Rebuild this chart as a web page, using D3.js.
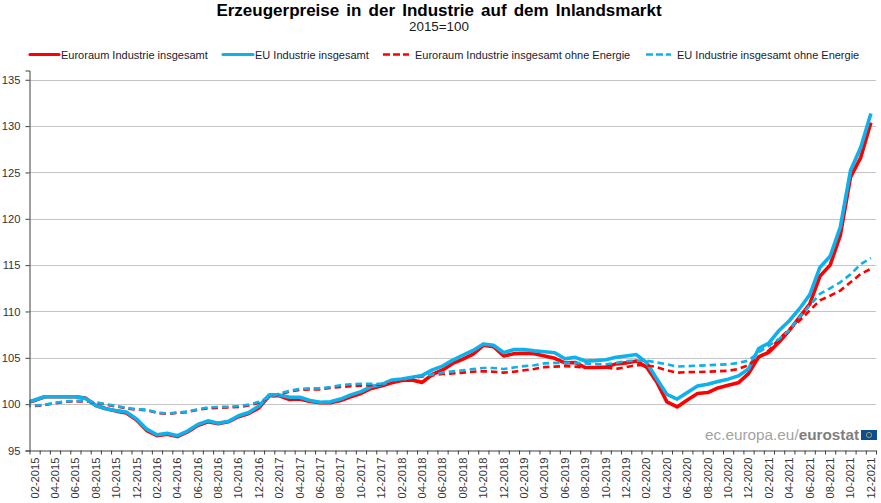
<!DOCTYPE html>
<html>
<head>
<meta charset="utf-8">
<script src="https://cdn.jsdelivr.net/npm/d3@7"></script>
<style>
  html, body { margin: 0; padding: 0; background: #fff; }
  text { font-family: "Liberation Sans", Arial, sans-serif; }
</style>
</head>
<body>
<div id="chart"></div>
<script>
// values, monthly 01-2015 to 12-2021
const years = [2015, 2016, 2017, 2018, 2019, 2020, 2021]
const monthNames = ["01", "02", "03", "04", "05", "06", "07", "08", "09", "10", "11", "12"]
const yTicks = [95, 100, 105, 110, 115, 120, 125, 130, 135]

const euroTotal = [
  100.05, 100.4, 100.8, 100.8, 100.8, 100.8, 100.65, 99.85, 99.5, 99.25, 99.05, 98.3,
  97.15, 96.6, 96.75, 96.5, 97, 97.7, 98.1, 97.9, 98.1, 98.65, 99, 99.6,
  100.9, 100.9, 100.5, 100.55, 100.3, 100.15, 100.15, 100.4, 100.8, 101.15, 101.7, 101.95,
  102.3, 102.55, 102.6, 102.35, 103.2, 103.7, 104.4, 104.85, 105.4, 106.35, 106.2, 105.2,
  105.45, 105.5, 105.45, 105.2, 104.95, 104.45, 104.5, 103.95, 103.95, 104, 104.35, 104.45,
  104.65, 104, 102.4, 100.25, 99.7, 100.45, 101.15, 101.25, 101.75, 102.05, 102.3, 103.3,
  105.1, 105.6, 106.7, 107.95, 109.4, 110.8, 113.8, 115, 118.2, 124.5, 126.6, 130.4
]
const euTotal = [
  100.1, 100.45, 100.8, 100.8, 100.8, 100.8, 100.6, 99.85, 99.5, 99.3, 99.15, 98.4,
  97.3, 96.7, 96.85, 96.6, 97.1, 97.8, 98.2, 97.95, 98.15, 98.75, 99.1, 99.8,
  101, 101, 100.75, 100.75, 100.4, 100.2, 100.25, 100.55, 101, 101.35, 101.9, 102.1,
  102.6, 102.7, 102.9, 103.1, 103.7, 104.1, 104.75, 105.3, 105.8, 106.5, 106.35, 105.55,
  105.9, 105.9, 105.75, 105.65, 105.55, 104.9, 105.05, 104.65, 104.7, 104.8, 105.05, 105.2,
  105.35, 104.5, 102.75, 101.05, 100.55, 101.25, 101.95, 102.15, 102.45, 102.7, 103.05, 103.8,
  106, 106.6, 107.95, 109, 110.3, 111.8, 114.75, 115.95, 119.1, 125.2, 127.7, 131.35
]
const euroExEnergy = [
  99.8, 99.8, 99.9, 100.1, 100.25, 100.3, 100.3, 100.15, 99.95, 99.75, 99.55, 99.4,
  99.35, 99.05, 98.95, 99.05, 99.15, 99.4, 99.55, 99.6, 99.65, 99.7, 99.85, 100.15,
  100.7, 101.05, 101.35, 101.55, 101.6, 101.6, 101.75, 101.85, 101.95, 102, 102.05, 102.1,
  102.4, 102.6, 102.8, 103, 103.1, 103.25, 103.3, 103.4, 103.5, 103.55, 103.5, 103.4,
  103.5, 103.65, 103.8, 104, 104.05, 104.1, 104.05, 103.95, 103.95, 103.95, 103.8, 104,
  104.2, 104.2, 104, 103.65, 103.4, 103.45, 103.47, 103.5, 103.55, 103.6, 103.8, 104.2,
  105.05, 105.8, 107.05, 108.1, 109, 110.1, 111.2, 111.7, 112.25, 113.15, 114.05, 114.6
]
const euExEnergy = [
  99.8, 99.85, 99.95, 100.15, 100.3, 100.35, 100.35, 100.2, 100, 99.8, 99.6, 99.45,
  99.4, 99.1, 99, 99.1, 99.2, 99.45, 99.65, 99.7, 99.72, 99.8, 99.95, 100.25,
  100.75, 101.15, 101.45, 101.65, 101.7, 101.7, 101.85, 102.05, 102.15, 102.2, 102.2, 102.2,
  102.55, 102.7, 102.85, 103.05, 103.2, 103.4, 103.55, 103.65, 103.8, 103.9, 103.9, 103.8,
  103.95, 104.1, 104.2, 104.4, 104.45, 104.45, 104.45, 104.4, 104.3, 104.3, 104.45, 104.65,
  104.7, 104.7, 104.5, 104.3, 104.05, 104.1, 104.15, 104.2, 104.25, 104.3, 104.45, 104.7,
  105.6, 106.3, 107.05, 107.95, 109.4, 110.65, 111.9, 112.5, 113.15, 114, 115.1, 115.75
]

const months = years.flatMap(y => monthNames.map(m => m + "-" + y))
// the plot starts half a month before 02-2015, so 01-2015 falls behind the axis and is clipped
const shownMonths = months.slice(1)

const series = [
  {name: "Euroraum Industrie insgesamt", values: euroTotal, color: "#ff0000", dashed: false, lx: 30, tx: 61},
  {name: "EU Industrie insgesamt", values: euTotal, color: "#0db1ec", dashed: false, lx: 223, tx: 255},
  {name: "Euroraum Industrie insgesamt ohne Energie", values: euroExEnergy, color: "#ff0000", dashed: true, lx: 383, tx: 415},
  {name: "EU Industrie insgesamt ohne Energie", values: euExEnergy, color: "#0db1ec", dashed: true, lx: 646, tx: 677}
]

const width = 881, height = 503
const margin = {top: 70.5, left: 29.5, right: 5, bottom: 52.5}

const svg = d3.select("#chart").append("svg")
  .attr("width", width)
  .attr("height", height)
  .style("display", "block")

// title
svg.append("text")
  .attr("x", 439).attr("y", 15.6)
  .attr("text-anchor", "middle")
  .style("font-size", "17px").style("font-weight", "bold").style("word-spacing", "2.4px")
  .attr("fill", "#000")
  .text("Erzeugerpreise in der Industrie auf dem Inlandsmarkt")
svg.append("text")
  .attr("x", 439).attr("y", 31)
  .attr("text-anchor", "middle")
  .style("font-size", "13.4px")
  .attr("fill", "#1a1a1a")
  .text("2015=100")

// scales
const innerLeft = margin.left, innerRight = width - margin.right
const bottom = height - margin.bottom

const y = d3.scaleLinear().domain([95, 136]).range([bottom, margin.top])

const band = d3.scaleBand().domain(shownMonths).range([innerLeft, innerRight])
const x = m => {
  const i = months.indexOf(m)
  return innerLeft + band.step() * (i - 0.5)
}

// horizontal grid
svg.append("g")
  .selectAll("line")
  .data(yTicks.filter(d => d > 95))
  .enter().append("line")
  .attr("x1", innerLeft).attr("x2", innerRight)
  .attr("y1", d => Math.round(y(d)) + 0.5).attr("y2", d => Math.round(y(d)) + 0.5)
  .attr("stroke", "#c4c4c4")
  .attr("stroke-width", 1)

// logo
const logo = svg.append("g")
logo.append("text")
  .attr("x", 859).attr("y", 440)
  .attr("text-anchor", "end")
  .style("font-size", "15.3px")
  .attr("fill", "#a3a3a3")
  .text("ec.europa.eu/")
  .append("tspan")
  .style("font-weight", "bold")
  .attr("fill", "#7f7f7f")
  .text("eurostat")
logo.append("rect")
  .attr("x", 861).attr("y", 430).attr("width", 16).attr("height", 10)
  .attr("fill", "#0e4d92")
logo.append("circle")
  .attr("cx", 869).attr("cy", 435).attr("r", 2.6)
  .attr("fill", "none").attr("stroke", "#c9b53a").attr("stroke-width", 0.8)

// lines
svg.append("clipPath").attr("id", "plot")
  .append("rect")
  .attr("x", innerLeft).attr("y", margin.top)
  .attr("width", innerRight - innerLeft).attr("height", bottom - margin.top)

const line = d3.line()
  .x((d, i) => x(months[i]))
  .y(d => y(d))

svg.append("g")
  .attr("clip-path", "url(#plot)")
  .selectAll("path")
  .data(series)
  .enter().append("path")
  .attr("d", d => line(d.values))
  .attr("fill", "none")
  .attr("stroke", d => d.color)
  .attr("stroke-width", d => d.dashed ? 2.6 : 3.6)
  .attr("stroke-dasharray", d => d.dashed ? "6.5 4" : null)
  .attr("stroke-linejoin", "round")

// axes
const yAxis = d3.axisLeft(y).tickValues(yTicks).tickSize(4).tickPadding(5)
const yG = svg.append("g")
  .attr("transform", "translate(" + innerLeft + ",0)")
  .call(yAxis)
yG.selectAll("text").style("font-size", "11.2px").attr("fill", "#333")
yG.selectAll("line,path").attr("stroke", "#404040")

// labels sit in the middle of each month, every second month
const xAxis = d3.axisBottom(band)
  .tickValues(shownMonths.filter((d, i) => i % 2 == 0))
  .tickSize(0).tickPadding(0)
const xG = svg.append("g")
  .attr("transform", "translate(0," + bottom + ")")
  .call(xAxis)
xG.select(".domain").attr("stroke", "#404040")
xG.selectAll("text")
  .attr("transform", "rotate(-90)")
  .attr("text-anchor", "end")
  .attr("x", -7).attr("y", 0).attr("dy", "0.35em")
  .style("font-size", "11.2px")
  .attr("fill", "#333")

// tick marks go on the month boundaries
const edges = d3.scalePoint().domain(shownMonths.concat("end")).range([innerLeft, innerRight])
svg.append("g")
  .attr("transform", "translate(0," + bottom + ")")
  .call(d3.axisBottom(edges).tickSize(4).tickFormat(""))
  .call(g => g.select(".domain").remove())
  .selectAll("line").attr("stroke", "#404040")

// legend
const legend = svg.append("g").selectAll("g")
  .data(series)
  .enter().append("g")
legend.append("line")
  .attr("x1", d => d.lx).attr("x2", d => d.tx - (d.dashed ? 6 : 2))
  .attr("y1", 54.5).attr("y2", 54.5)
  .attr("stroke", d => d.color)
  .attr("stroke-width", d => d.dashed ? 2.6 : 3.2)
  .attr("stroke-dasharray", d => d.dashed ? "7 3" : null)
  .attr("stroke-linecap", d => d.dashed ? null : "round")
legend.append("text")
  .attr("x", d => d.tx).attr("y", 58.5)
  .style("font-size", "11px")
  .attr("fill", "#1a1a2e")
  .text(d => d.name)
</script>
</body>
</html>
